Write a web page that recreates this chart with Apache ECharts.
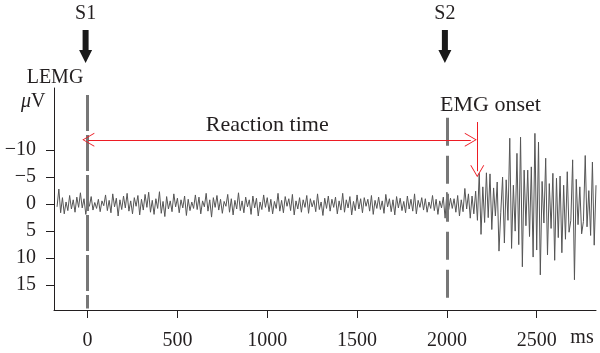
<!DOCTYPE html>
<html>
<head>
<meta charset="utf-8">
<script src="https://cdn.jsdelivr.net/npm/echarts@6/dist/echarts.min.js"></script>
<style>
  html, body { margin: 0; background: #fff; }
  #chart { width: 600px; height: 353px; }
</style>
</head>
<body>
<div id="chart"></div>
<script>
// EMG trace, one sample every 10 ms starting at -170 ms (values in µV)
const emgStartMs = -170;
const emgStepMs = 10;
const emgValues = [
  0.5, -2.8, 1.6, -1.2, 1.8, -0.4, 1.2, -1.6, 0.9, -0.8,
  1.5, -1.3, 0.6, -2.1, 0.7, -1.0, 1.9, -0.5, 0.4, -1.4,
  1.1, -0.3, 0.8, -0.9, 1.4, -0.6, 0.3, -1.7, 1.2, -0.7,
  1.6, -1.9, 0.5, -1.1, 2.2, -0.8, 1.0, -1.5, 0.7, -2.0,
  1.3, -0.6, 1.8, -1.2, 0.4, -1.6, 2.0, -0.9, 1.1, -1.8,
  0.6, -2.2, 1.5, -0.7, 1.9, -1.0, 0.8, -2.3, 1.7, -0.5,
  2.3, -1.4, 0.9, -0.6, 1.4, -1.9, 0.5, -1.1, 1.6, -0.8,
  0.7, -1.5, 2.1, -0.9, 1.2, -0.4, 0.8, -1.7, 1.0, -1.3,
  1.8, -0.6, 0.5, -2.0, 1.3, -0.8, 2.4, -1.2, 0.6, -1.6,
  1.1, -0.9, 1.7, -0.5, 0.4, -1.8, 1.5, -1.0, 2.0, -0.7,
  0.9, -2.1, 1.2, -0.6, 1.6, -1.3, 0.5, -0.8, 1.9, -1.5,
  0.7, -1.1, 2.2, -0.4, 1.0, -1.7, 0.6, -1.2, 1.4, -0.9,
  1.8, -0.5, 0.8, -2.0, 1.3, -0.7, 1.6, -1.4, 0.4, -1.0,
  1.2, -1.8, 2.0, -0.6, 0.9, -1.2, 1.5, -0.8, 0.6, -1.6,
  1.7, -1.0, 0.5, -0.7, 1.4, -1.9, 1.0, -0.4, 2.1, -1.1,
  0.8, -1.5, 1.3, -0.9, 0.6, -1.3, 1.8, -0.6, 1.1, -2.0,
  1.5, -0.8, 0.7, -1.4, 2.0, -0.5, 1.2, -1.7, 0.9, -1.0,
  1.6, -1.2, 0.4, -0.9, 1.3, -1.6, 1.9, -0.7, 0.8, -1.3,
  1.0, -0.6, 1.7, -1.8, 0.5, -1.0, 1.4, -0.8, 2.0, -1.4,
  0.7, -1.1, 1.2, -0.5, 1.6, -1.5, 0.9, -0.9, 1.3, -1.9,
  1.8, -0.7, 0.6, -1.2, 1.1, -1.0, 1.5, -0.4, 0.8, -1.6,
  1.2, -0.9, 1.9, -0.6, 0.7, -1.3, 2.6, -2.2, 1.0, -1.1,
  0.8, -1.0, 1.5, -1.6, 2.2, -0.8, 1.4, -2.9, 0.9, -1.9,
  2.6, -1.5, 1.8, -2.4, 3.0, -5.7, 5.6, -3.2, 3.4, -5.8,
  2.5, -5.6, 4.7, -3.0, 2.2, -4.1, 8.7, 1.5, -5.0, 7.2,
  -4.5, 3.0, -12.2, 8.2, -3.5, 5.0, -9.4, 7.5, -12.4, 11.6,
  -6.3, 4.0, -6.3, 6.0, -6.9, 9.8, -13.1, 8.5, -11.5, 13.1,
  -4.2, 3.5, -8.5, 9.4, -3.8, 4.5, -5.7, 10.4, -4.8, 6.2,
  -5.2, 9.0, -3.5, 6.5, -6.0, 5.2, 3.0, -8.2, 14.0, -4.6,
  3.8, -3.2, 5.5, 3.2, -9.0, 4.2, -2.5, 5.8, -7.8, 7.6,
  -3.5
];
const xTicks = [0, 500, 1000, 1500, 2000, 2500];
const yTicks = [-10, -5, 0, 5, 10, 15];
const stimulusTimes = [0, 2000];
const stimulusNames = ['S1', 'S2'];

const serif = "'Liberation Serif', 'DejaVu Serif', serif";
const ink = '#231f20';
const red = '#ed1c24';
const openHead = 'path://M0 0 L7 12 L6 12 L0 1.6 L-6 12 L-7 12 Z';
const redLine = { color: red, width: 1, type: 'solid' };

const emgData = emgValues.map((v, i) => [emgStartMs + i * emgStepMs, v]);

const option = {
  animation: false,
  grid: { left: 54, right: 4, top: 88, bottom: 43 },
  xAxis: {
    type: 'value',
    min: -187,
    max: 2830,
    splitLine: { show: false },
    axisLine: { onZero: false, lineStyle: { color: ink, width: 1 } },
    axisTick: { customValues: xTicks, length: 8, lineStyle: { color: ink } },
    axisLabel: {
      customValues: xTicks,
      margin: 21,
      color: ink,
      fontFamily: serif,
      fontSize: 20,
      formatter: v => String(v)
    }
  },
  yAxis: {
    type: 'value',
    inverse: true,
    min: -21.5,
    max: 19.6,
    splitLine: { show: false },
    axisLine: { show: true, onZero: false, lineStyle: { color: ink, width: 1 } },
    axisTick: { show: true, customValues: yTicks, length: 8, lineStyle: { color: ink } },
    axisLabel: {
      customValues: yTicks,
      margin: 18,
      color: ink,
      fontFamily: serif,
      fontSize: 20,
      formatter: v => String(v).replace('-', '\u2212')
    }
  },
  series: [{
    type: 'line',
    data: emgData,
    showSymbol: false,
    clip: false,
    lineStyle: { color: '#555', width: 1 },
    markLine: {
      silent: true,
      symbol: 'none',
      z: 10,
      label: { show: false },
      data: [
        [
          { coord: [stimulusTimes[0], -20.2], lineStyle: { color: '#777', width: 3, type: [36, 4] } },
          { coord: [stimulusTimes[0], 19.3] }
        ],
        [
          { coord: [stimulusTimes[1], -16], lineStyle: { color: '#777', width: 3, type: [28, 10] } },
          { coord: [stimulusTimes[1], 18.7] }
        ],
        [
          { coord: [4, -11.9], symbol: openHead, symbolSize: [14, 12], lineStyle: redLine, itemStyle: { color: red } },
          { coord: [2133, -11.9], symbol: openHead, symbolSize: [14, 12], lineStyle: redLine, itemStyle: { color: red } }
        ],
        [
          { coord: [2169, -15.2], symbol: 'none', lineStyle: redLine, itemStyle: { color: red } },
          { coord: [2169, -6.1], symbol: openHead, symbolSize: [14, 12], lineStyle: redLine, itemStyle: { color: red } }
        ]
      ]
    }
  }]
};

const chart = echarts.init(document.getElementById('chart'));
chart.setOption(option);

const toPx = (x, y) => chart.convertToPixel({ gridIndex: 0 }, [x, y]);
const textStyle = (text, size, align) => ({
  text: text,
  fill: ink,
  font: size + 'px ' + serif,
  textAlign: align || 'center',
  textVerticalAlign: 'middle'
});

const graphics = [];
stimulusTimes.forEach((t, i) => {
  const cx = toPx(t, 0)[0] - 2;
  graphics.push({ type: 'text', x: cx, y: 14, style: textStyle(stimulusNames[i], 20) });
  graphics.push({
    type: 'polygon',
    shape: { points: [[cx - 3, 30], [cx + 3, 30], [cx + 3, 50], [cx + 6.5, 50], [cx, 63], [cx - 6.5, 50], [cx - 3, 50]] },
    style: { fill: '#1a1a1a' }
  });
});

const rtPos = toPx(1000, -14.6);
graphics.push({ type: 'text', x: rtPos[0], y: rtPos[1], style: textStyle('Reaction time', 22) });
const onPos = toPx(1962, -18.3);
graphics.push({ type: 'text', x: onPos[0], y: onPos[1], style: textStyle('EMG onset', 22, 'left') });

graphics.push({ type: 'text', x: 55, y: 78, style: textStyle('LEMG', 20) });
graphics.push({
  type: 'text', x: 21, y: 102,
  style: {
    text: '{i|\u03bc}V',
    fill: ink,
    font: '20px ' + serif,
    textAlign: 'left',
    textVerticalAlign: 'middle',
    rich: { i: { fontStyle: 'italic', fontFamily: serif, fontSize: 20, fill: ink } }
  }
});
graphics.push({ type: 'text', x: 582, y: 338, style: textStyle('ms', 20) });

chart.setOption({ graphic: graphics });
</script>
</body>
</html>
